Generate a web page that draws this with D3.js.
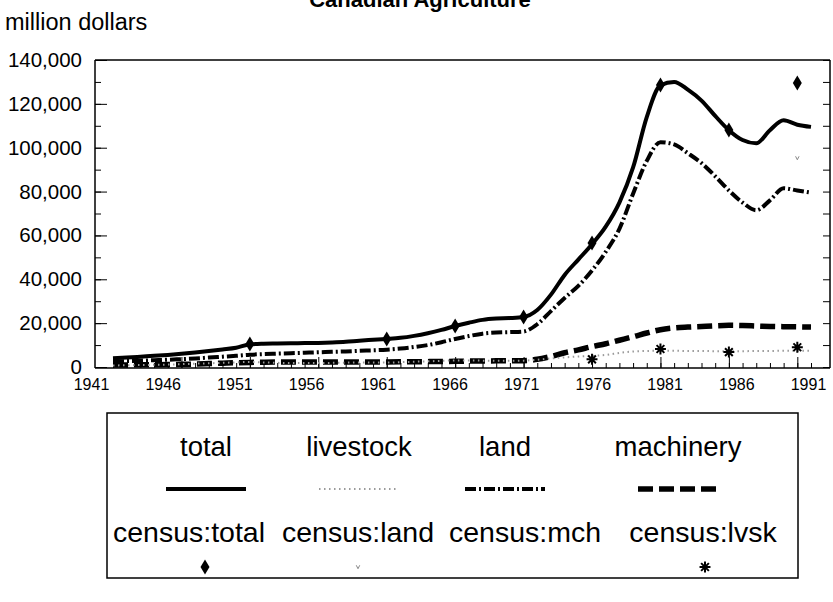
<!DOCTYPE html>
<html><head><meta charset="utf-8">
<script src="https://cdn.jsdelivr.net/npm/d3@7"></script>
<style>body{margin:0;background:#fff}svg{display:block;font-family:"Liberation Sans",Arial,sans-serif}</style>
</head><body>
<svg id="c" width="833" height="602"></svg>
<script>
const years = [1941,1942,1943,1944,1945,1946,1947,1948,1949,1950,1951,1952,1953,1954,1955,1956,1957,1958,1959,1960,1961,1962,1963,1964,1965,1966,1967,1968,1969,1970,1971,1972,1973,1974,1975,1976,1977,1978,1979,1980,1981,1982,1983,1984,1985,1986,1987,1988,1989,1990,1991,1992];
const total = [4000,4300,4700,5100,5500,6000,6600,7300,8000,8800,10300,10600,10700,10800,10900,11000,11200,11500,12000,12400,12800,13300,14200,15400,16900,18700,20200,21500,22100,22300,22800,26000,33000,42000,49000,56000,64000,75000,91000,114000,128500,130000,126500,121500,114500,108000,103500,102000,108000,112500,110500,109500];
const livestock = [700,800,900,1000,1100,1300,1500,1700,1900,2100,2300,2100,1900,1800,1800,1800,1900,2000,2100,2000,2000,2200,2400,2600,2800,3000,3000,2900,2800,2800,2900,3300,3900,4400,4800,5100,5500,6400,7100,7300,7400,7400,7300,7300,7200,7200,7200,7300,7300,7400,7400,7400];
const land = [2600,2700,2900,3100,3300,3600,3900,4300,4700,5100,5600,5900,6100,6300,6500,6700,6900,7100,7400,7600,7900,8400,9100,10000,11300,12800,14100,15200,15700,15900,16200,19500,25500,31500,37000,44000,52500,63000,79000,94000,102500,101500,97500,93000,87000,80500,75000,71500,76000,81500,80500,79500];
const machinery = [900,950,1000,1050,1100,1200,1350,1550,1750,1950,2100,2200,2250,2250,2250,2250,2250,2300,2300,2300,2300,2350,2400,2450,2500,2600,2700,2750,2800,2800,2900,3500,4800,6500,7800,9300,10600,12200,13800,15500,17000,17800,18200,18500,18800,19000,18900,18700,18500,18400,18300,18200];
const censusTotalYears = [1951,1961,1966,1971,1976,1981,1986,1991];
const censusTotal = [10500,12800,18700,22800,56500,128600,108100,129500];
const censusLandYears = [1991];
const censusLand = [95300];
const censusLvskYears = [1976,1981,1986,1991];
const censusLvsk = [3500,8200,6800,9000];
const yTicks = [0,20000,40000,60000,80000,100000,120000,140000];
const xTickLabels = [1941,1946,1951,1956,1961,1966,1971,1976,1981,1986,1991];
const seriesNames = ["total","livestock","land","machinery"];
const censusNames = ["census:total","census:land","census:mch","census:lvsk"];

const svg = d3.select("#c");
const x = d3.scaleLinear().domain([1941,1992]).range([113,811]);
const xLab = d3.scalePoint().domain(xTickLabels).range([91,808]);
const y = d3.scaleLinear().domain([0,140000]).range([367,60]);
const L = 95, R = 830, T = 60, B = 368;

// title and unit
svg.append("text").attr("x",420).attr("y",7).attr("text-anchor","middle")
  .attr("font-size",22).attr("font-weight","bold").text("Canadian Agriculture");
svg.append("text").attr("x",5).attr("y",30).attr("font-size",23.5).text("million dollars");

// frame
svg.append("line").attr("x1",L).attr("x2",R).attr("y1",T).attr("y2",T).attr("stroke","#000").attr("stroke-width",1.5);

// left axis
const minorY = d3.range(0,140001,10000);
svg.append("g").attr("transform",`translate(${L},0)`)
  .call(d3.axisLeft(y).tickValues(minorY).tickSize(-6).tickFormat(""))
  .call(g=>g.select(".domain").remove());
svg.append("g").attr("transform",`translate(${L},0)`)
  .call(d3.axisLeft(y).tickValues(yTicks).tickSize(-12).tickPadding(13).tickFormat(d3.format(",")))
  .call(g=>g.selectAll("text").attr("font-size",20.5).attr("font-family","Liberation Sans, Arial"))
  .call(g=>g.select(".domain").attr("d",`M0,${T}V${B}`).attr("stroke-width",1.5));
// right axis
svg.append("g").attr("transform",`translate(${R},0)`)
  .call(d3.axisRight(y).tickValues(minorY).tickSize(-7).tickFormat(""))
  .call(g=>g.select(".domain").attr("d",`M0,${T}V${B}`).attr("stroke-width",1.5));
// bottom axis: ticks
svg.append("g").attr("transform",`translate(0,${B})`)
  .call(d3.axisBottom(x).tickValues(years).tickSize(-5).tickFormat(""))
  .call(g=>g.select(".domain").remove());
svg.append("g").attr("transform",`translate(0,${B})`)
  .call(d3.axisBottom(x).tickValues(xTickLabels).tickSize(-11).tickFormat(""))
  .call(g=>g.select(".domain").attr("d",`M${L},0H${R}`).attr("stroke-width",1.5));
// bottom axis: labels
svg.append("g").attr("transform",`translate(0,${B})`)
  .call(d3.axisBottom(xLab).tickSize(0).tickPadding(11).tickFormat(d3.format("d")))
  .call(g=>g.selectAll("text").attr("font-size",16).attr("font-family","Liberation Sans, Arial"))
  .call(g=>g.select(".domain").remove());

// lines
const styles = {
  total:{data:total,color:"#000",w:4,dash:null},
  livestock:{data:livestock,color:"#9a9a9a",w:2,dash:"1.5,3.5"},
  land:{data:land,color:"#000",w:4,dash:"11,3,2,3"},
  machinery:{data:machinery,color:"#000",w:5.5,dash:"15,6"}
};
const line = d3.line().x(d=>x(d[0])).y(d=>y(d[1])).curve(d3.curveMonotoneX);
["machinery","livestock","land","total"].forEach(k=>{
  const s = styles[k];
  svg.append("path").datum(years.map((yr,i)=>[yr,s.data[i]]))
    .attr("d",line).attr("fill","none").attr("stroke",s.color).attr("stroke-width",s.w)
    .attr("stroke-dasharray",s.dash).attr("stroke-linejoin","round");
});

// symbols
const asterisk = {draw(ctx,size){const r=Math.sqrt(size)/2;
  for(let a=0;a<4;a++){const t=a*Math.PI/4;ctx.moveTo(-r*Math.cos(t),-r*Math.sin(t));ctx.lineTo(r*Math.cos(t),r*Math.sin(t));}}};
const vee = {draw(ctx,size){const r=Math.sqrt(size)/2;ctx.moveTo(-r,-r);ctx.lineTo(0,r);ctx.lineTo(r,-r);}};
const diamond = {draw(ctx,size){const h=Math.sqrt(size)*0.75,w=h*0.6;ctx.moveTo(0,-h);ctx.lineTo(w,0);ctx.lineTo(0,h);ctx.lineTo(-w,0);ctx.closePath();}};
const symTotal = d3.symbol().type(diamond).size(100);
const symLvsk = d3.symbol().type(asterisk).size(120);
const symLand = d3.symbol().type(vee).size(12);

svg.append("g").selectAll("path").data(censusTotalYears.map((yr,i)=>[yr,censusTotal[i]])).join("path")
  .attr("transform",d=>`translate(${x(d[0])},${y(d[1])})`).attr("d",symTotal).attr("fill","#000");
svg.append("g").selectAll("path").data(censusLvskYears.map((yr,i)=>[yr,censusLvsk[i]])).join("path")
  .attr("transform",d=>`translate(${x(d[0])},${y(d[1])})`).attr("d",symLvsk).attr("fill","none").attr("stroke","#000").attr("stroke-width",2);
svg.append("g").selectAll("path").data(censusLandYears.map((yr,i)=>[yr,censusLand[i]])).join("path")
  .attr("transform",d=>`translate(${x(d[0])},${y(d[1])})`).attr("d",symLand).attr("fill","none").attr("stroke","#888").attr("stroke-width",1);

// legend
const lg = svg.append("g");
lg.append("rect").attr("x",107).attr("y",413).attr("width",691).attr("height",165).attr("fill","none").attr("stroke","#000").attr("stroke-width",1.5);
const col1 = [206,359,505,678];
const col2 = [189,358,525,703];
seriesNames.forEach((n,i)=>{
  lg.append("text").attr("x",col1[i]).attr("y",456).attr("text-anchor","middle").attr("font-size",27.5).text(n);
  const s = styles[n];
  lg.append("line").attr("x1",col1[i]-40).attr("x2",col1[i]+40).attr("y1",489).attr("y2",489)
    .attr("stroke",s.color).attr("stroke-width",s.w).attr("stroke-dasharray",s.dash);
});
censusNames.forEach((n,i)=>{
  lg.append("text").attr("x",col2[i]).attr("y",542).attr("text-anchor","middle").attr("font-size",28.5).text(n);
});
lg.append("path").attr("transform",`translate(205,567)`).attr("d",symTotal).attr("fill","#000");
lg.append("path").attr("transform",`translate(358,567)`).attr("d",symLand).attr("fill","none").attr("stroke","#888");
lg.append("path").attr("transform",`translate(705,567)`).attr("d",symLvsk).attr("fill","none").attr("stroke","#000").attr("stroke-width",2);
</script>
</body></html>
